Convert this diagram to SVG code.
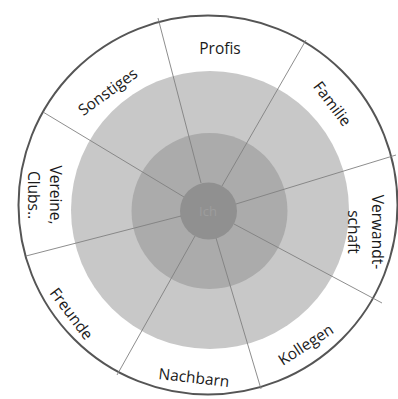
<svg xmlns="http://www.w3.org/2000/svg" width="398" height="399" viewBox="0 0 398 399">
  <style>
    .lbl { font-family: "Open Sans", "DejaVu Sans", sans-serif; font-size: 15.5px; fill: #1a1a1a; text-anchor: middle; }
    .div { stroke: #808080; stroke-width: 0.9; fill: none; }
  </style>
  <rect width="398" height="399" fill="#ffffff"/>
  <g id="rings">
    <circle id="outer-ring" cx="208" cy="205" r="189.5" fill="#ffffff" stroke="#555555" stroke-width="2"/>
    <circle id="ring-2" cx="210" cy="210" r="139" fill="#c8c8c8"/>
    <circle id="ring-3" cx="209.5" cy="211" r="78" fill="#ababab"/>
    <circle id="ring-core" cx="208.5" cy="211" r="28.5" fill="#909090"/>
  </g>
  <g id="connectors">
    <line class="div" x1="201" y1="183" x2="158" y2="18"/>
    <line class="div" x1="222" y1="186" x2="306" y2="40"/>
    <line class="div" x1="236" y1="204" x2="396" y2="155"/>
    <line class="div" x1="234" y1="224" x2="382" y2="303"/>
    <line class="div" x1="216" y1="238" x2="261" y2="389"/>
    <line class="div" x1="195" y1="236" x2="117" y2="375"/>
    <line class="div" x1="181" y1="216" x2="26" y2="256"/>
    <line class="div" x1="184" y1="197" x2="43" y2="112"/>
  </g>
  <g id="node-profis"><text class="lbl" x="220" y="54">Profis</text></g>
  <g id="node-familie"><text class="lbl" transform="translate(332,104) rotate(53)" x="0" y="5">Familie</text></g>
  <g id="node-verwandtschaft">
    <text class="lbl" transform="translate(365,232) rotate(90)"><tspan x="0" y="-7">Verwandt-</tspan><tspan x="0" y="17">schaft</tspan></text>
  </g>
  <g id="node-kollegen"><text class="lbl" transform="translate(306,345) rotate(-33)" x="0" y="5">Kollegen</text></g>
  <g id="node-nachbarn"><text class="lbl" transform="translate(194,378) rotate(6.5)" x="0" y="5">Nachbarn</text></g>
  <g id="node-freunde"><text class="lbl" transform="translate(71,314) rotate(53)" x="0" y="5">Freunde</text></g>
  <g id="node-vereine">
    <text class="lbl" transform="translate(44,195) rotate(90)"><tspan x="0" y="-6">Vereine,</tspan><tspan x="0" y="16">Clubs..</tspan></text>
  </g>
  <g id="node-sonstiges"><text class="lbl" transform="translate(108,92) rotate(-36)" x="0" y="5">Sonstiges</text></g>
  <g id="node-ich"><text class="lbl" x="208" y="216" style="fill:#9d9d9d;font-size:13px">Ich</text></g>
</svg>
